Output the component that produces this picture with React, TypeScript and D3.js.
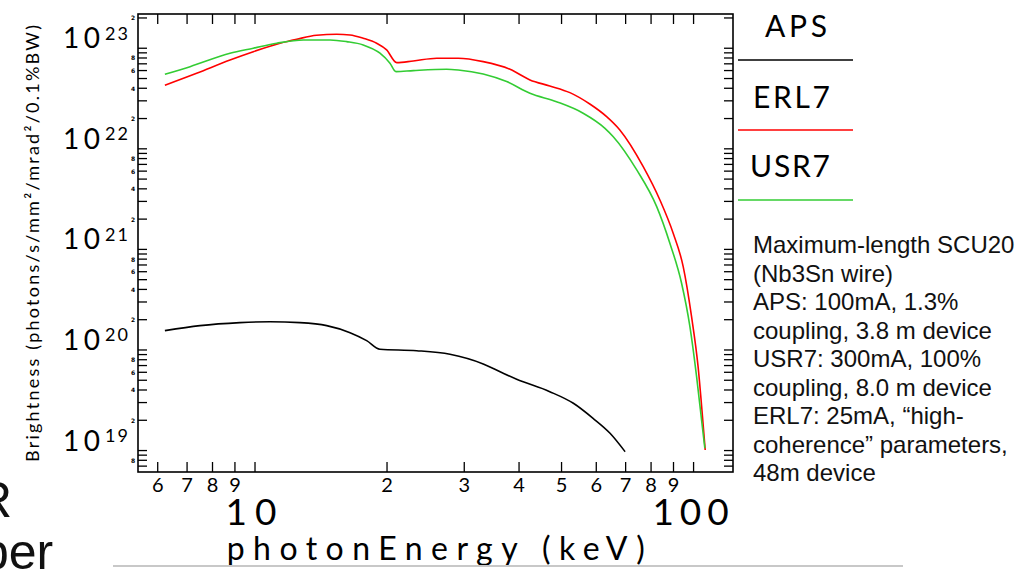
import React from "react";
import * as d3 from "d3";

// ---------- data ----------
const apsEnergy = [6.23, 7.49, 9.24, 10.82, 12.66, 14.57, 16.47, 17.97, 19.27, 23.37, 27.83, 33.14, 36.81, 39.5, 47.0, 53.2, 59.0, 64.5, 69.8];
const apsBrightness = [1.556e20, 1.745e20, 1.87e20, 1.91e20, 1.87e20, 1.745e20, 1.486e20, 1.238e20, 1.016e20, 9.84e19, 9.06e19, 7.26e19, 5.86e19, 5.11e19, 3.85e19, 2.95e19, 2.09e19, 1.485e19, 9.75e18];

const erl7Energy = [6.23, 7.36, 8.77, 9.91, 11.4, 12.45, 13.82, 15.36, 16.47, 17.65, 18.94, 19.96, 21.04, 22.95, 25.96, 29.07, 33.14, 38.14, 42.36, 47.0, 52.24, 58.0, 63.35, 67.9, 76.77, 83.8, 89.85, 94.7, 98.95, 102.4, 104.8, 106.3];
const erl7Brightness = [4.29e22, 5.64e22, 7.65e22, 9.25e22, 1.121e23, 1.229e23, 1.346e23, 1.377e23, 1.356e23, 1.257e23, 1.121e23, 9.62e22, 7.19e22, 7.47e22, 7.95e22, 7.95e22, 7.36e22, 6.18e22, 4.84e22, 4.22e22, 3.62e22, 2.79e22, 2.09e22, 1.54e22, 6.65e21, 3.1e21, 1.447e21, 6.74e20, 2.144e20, 6.82e19, 2.17e19, 1.014e19];

const usr7Energy = [6.23, 7.11, 8.77, 9.91, 11.21, 12.89, 14.83, 16.18, 17.65, 19.27, 20.31, 20.96, 22.95, 27.35, 29.07, 33.14, 37.48, 42.36, 48.7, 56.0, 62.8, 65.6, 74.2, 82.4, 88.3, 93.9, 98.1, 101.6, 104.3, 106.1];
const usr7Brightness = [5.51e22, 6.56e22, 8.92e22, 1.0e23, 1.121e23, 1.209e23, 1.209e23, 1.163e23, 1.078e23, 8.92e22, 7.1e22, 5.85e22, 5.99e22, 6.18e22, 6.08e22, 5.55e22, 4.66e22, 3.57e22, 2.94e22, 2.26e22, 1.6e22, 1.32e22, 6.17e21, 2.66e21, 1.151e21, 4.61e20, 1.706e20, 5.43e19, 2.01e19, 1.054e19];

const seriesNames = ["APS", "ERL7", "USR7"];
const seriesColors = ["#000000", "#ff0000", "#33cc33"];

const xDomain = [5.41, 123];
const yDomain = [6.12e18, 2.19e23];
const yMajorExponents = [19, 20, 21, 22, 23];
const xMajorLabels = ["10", "100"];
const xMinorLabelMantissas = [2, 3, 4, 5, 6, 7, 8, 9];
const yMinorLabelMantissas = [2, 4, 6, 8];

const xTitle = "photonEnergy (keV)";
const yTitle = "Brightness  (photons/s/mm²/mrad²/0.1%BW)";

const noteLines = [
  "Maximum-length SCU20",
  "(Nb3Sn wire)",
  "APS: 100mA, 1.3%",
  "coupling, 3.8 m device",
  "USR7: 300mA, 100%",
  "coupling, 8.0 m device",
  "ERL7: 25mA, “high-",
  "coherence” parameters,",
  "48m device",
];

// ---------- layout ----------
const W = 1019;
const H = 570;
const L = 138, R = 733, T = 14, B = 472;
const axisFont = "Lato, 'DejaVu Sans', sans-serif";
const noteFont = "'Liberation Sans', Arial, sans-serif";

export default function App() {
  const x = d3.scaleLog().domain(xDomain).range([L, R]);
  const y = d3.scaleLog().domain(yDomain).range([B, T]);

  const line = d3
    .line<[number, number]>()
    .x((d) => x(d[0]))
    .y((d) => y(d[1]))
    .curve(d3.curveMonotoneX);

  const series = [
    { e: apsEnergy, b: apsBrightness },
    { e: erl7Energy, b: erl7Brightness },
    { e: usr7Energy, b: usr7Brightness },
  ].map((s, i) => ({
    name: seriesNames[i],
    color: seriesColors[i],
    pts: s.e.map((e, k) => [e, s.b[k]] as [number, number]),
  }));

  const xTicks: number[] = [];
  for (let n = 0; n <= 2; n++)
    for (let k = 1; k <= 9; k++) {
      const v = k * Math.pow(10, n);
      if (v >= xDomain[0] && v <= xDomain[1]) xTicks.push(v);
    }
  const yTicks: { v: number; k: number }[] = [];
  for (let n = 18; n <= 23; n++)
    for (let k = 1; k <= 9; k++) {
      const v = k * Math.pow(10, n);
      if (v >= yDomain[0] && v <= yDomain[1]) yTicks.push({ v, k });
    }

  const mant = (v: number) => Math.round(v / Math.pow(10, Math.floor(Math.log10(v) + 1e-9)));

  return (
    <svg width={W} height={H} style={{ position: "absolute", left: 0, top: 0, background: "#fff" }}>
      <rect x={0} y={0} width={W} height={H} fill="#fff" />

      {series.map((s) => (
        <path key={s.name} d={line(s.pts) || ""} fill="none" stroke={s.color} strokeWidth={1.6} />
      ))}

      <rect x={L} y={T} width={R - L} height={B - T} fill="none" stroke="#000" strokeWidth={1.6} />

      {xTicks.map((v) => (
        <g key={"xt" + v}>
          <line x1={x(v)} x2={x(v)} y1={B} y2={B - 10} stroke="#000" strokeWidth={1.3} />
          <line x1={x(v)} x2={x(v)} y1={T} y2={T + 10} stroke="#000" strokeWidth={1.3} />
        </g>
      ))}
      {yTicks.map((t) => (
        <g key={"yt" + t.v}>
          <line x1={L} x2={L + 9} y1={y(t.v)} y2={y(t.v)} stroke="#000" strokeWidth={1.3} />
          <line x1={R} x2={R - 9} y1={y(t.v)} y2={y(t.v)} stroke="#000" strokeWidth={1.3} />
          {yMinorLabelMantissas.includes(t.k) && (
            <text x={L - 5} y={y(t.v)} fontSize={6} fontWeight="bold" fontFamily="'DejaVu Sans', sans-serif" textAnchor="middle" dominantBaseline="central">
              {t.k}
            </text>
          )}
        </g>
      ))}

      {xTicks
        .filter((v) => xMinorLabelMantissas.includes(mant(v)))
        .map((v) => (
          <text key={"xl" + v} x={x(v)} y={491.5} fontSize={20} fontFamily={axisFont} textAnchor="middle">
            {mant(v)}
          </text>
        ))}
      {xMajorLabels.map((lab) => (
        <text key={"xm" + lab} x={x(+lab)} y={525} fontSize={37} fontFamily={axisFont} textAnchor="middle" letterSpacing={lab.length === 2 ? 8 : 6}>
          {lab}
        </text>
      ))}
      <text x={226.7} y={560} fontSize={32} fontFamily={axisFont} textLength={418} lengthAdjust="spacing">
        {xTitle}
      </text>

      {yMajorExponents.map((e) => {
        const yy = y(Math.pow(10, e));
        return (
          <g key={"ym" + e}>
            <text x={63} y={yy} fontSize={28} fontFamily={axisFont} textLength={37} lengthAdjust="spacing">
              10
            </text>
            <text x={105} y={yy - 8.5} fontSize={18} fontFamily={axisFont} textLength={23} lengthAdjust="spacing">
              {e}
            </text>
          </g>
        );
      })}
      <text
        transform={`translate(32, 243.5) rotate(-90)`}
        fontSize={18}
        fontFamily={axisFont}
        textAnchor="middle"
        dominantBaseline="central"
        textLength={437}
        lengthAdjust="spacing"
      >
        {yTitle}
      </text>

      {[
        { x: 765, w: 62, base: 37, ly: 60 },
        { x: 753, w: 77, base: 108, ly: 130 },
        { x: 750, w: 80, base: 177, ly: 200 },
      ].map((g, i) => (
        <g key={"lg" + i}>
          <text x={g.x} y={g.base} fontSize={30} fontFamily={axisFont} textLength={g.w} lengthAdjust="spacing">
            {seriesNames[i]}
          </text>
          <line x1={738} x2={853} y1={g.ly} y2={g.ly} stroke={seriesColors[i]} strokeWidth={1.6} />
        </g>
      ))}

      {noteLines.map((t, i) => (
        <text key={"n" + i} x={753} y={253 + i * 28.5} fontSize={24} fontFamily={noteFont} fill="#111">
          {t}
        </text>
      ))}

      <text x={-24} y={517} fontSize={50} fontFamily={noteFont} fill="#111">R</text>
      <text x={-19} y={569} fontSize={50} fontFamily={noteFont} fill="#111">ber</text>
      <line x1={113} x2={903} y1={566} y2={566} stroke="#c8c8c8" strokeWidth={2} />
    </svg>
  );
}
